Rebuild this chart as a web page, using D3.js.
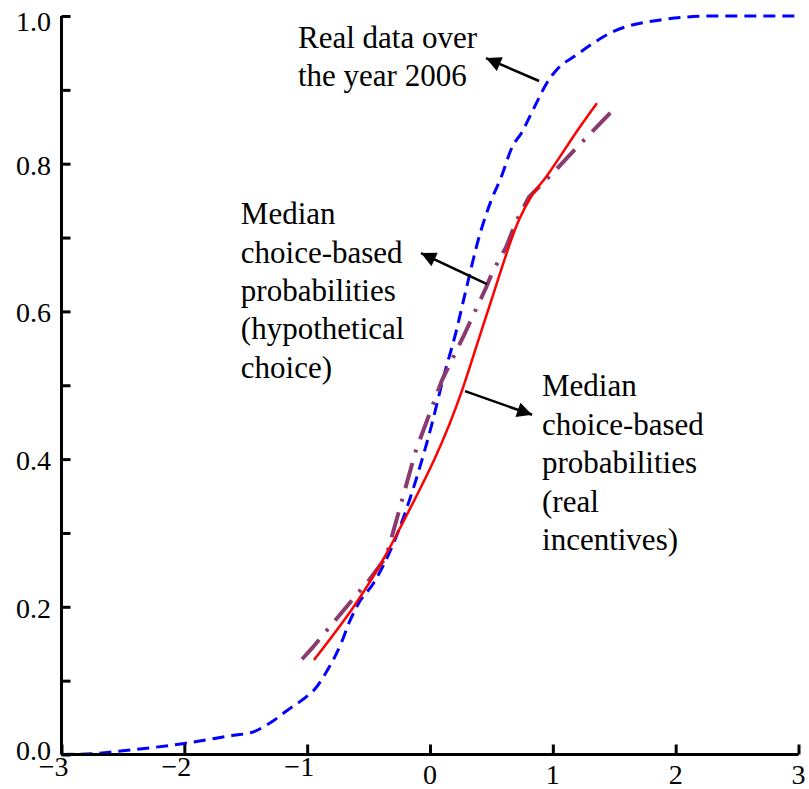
<!DOCTYPE html>
<html>
<head>
<meta charset="utf-8">
<script src="https://cdn.jsdelivr.net/npm/d3@7"></script>
<style>
  body { margin: 0; background: #fff; }
</style>
</head>
<body>
<div id="chart"></div>
<script>
const chart_width = 809;
const chart_height = 789;
const serif = "'Liberation Serif', 'DejaVu Serif', serif";

// real data over 2006 (blue dashed)
const realX = [-3, -2.75, -2.5, -2.0, -1.6, -1.45, -1.29, -1.16, -1.04, -0.93, -0.85, -0.77, -0.72, -0.66, -0.58, -0.46, -0.31, -0.09, 0.01, 0.11, 0.21, 0.28, 0.40, 0.50, 0.58, 0.67, 0.75, 0.81, 0.89, 0.95, 1.03, 1.19, 1.48, 1.89, 2.3, 3.0];
const realY = [0, 0.001, 0.005, 0.015, 0.026, 0.030, 0.044, 0.060, 0.074, 0.090, 0.110, 0.134, 0.152, 0.178, 0.205, 0.232, 0.281, 0.385, 0.444, 0.511, 0.571, 0.620, 0.701, 0.751, 0.782, 0.823, 0.843, 0.863, 0.890, 0.909, 0.927, 0.947, 0.978, 0.995, 1.0, 1.0];

// median choice-based probabilities, real incentives (red solid)
const incX = [-0.945, -0.334, -0.252, 0.261, 0.40, 0.505, 0.725, 0.83, 0.945, 1.213, 1.36];
const incY = [0.128, 0.278, 0.304, 0.493, 0.564, 0.618, 0.724, 0.757, 0.782, 0.848, 0.882];

// median choice-based probabilities, hypothetical choice (purple dash-dot)
const hypX = [-1.042, -0.96, -0.806, -0.497, -0.358, -0.114, 0.098, 0.277, 0.456, 0.505, 0.619, 0.708, 0.806, 1.01, 1.173, 1.515];
const hypY = [0.129, 0.144, 0.175, 0.236, 0.267, 0.412, 0.507, 0.568, 0.632, 0.652, 0.687, 0.724, 0.755, 0.789, 0.818, 0.877];

const xTicks = [-3, -2, -1, 0, 1, 2, 3];
const yTicks = [0.0, 0.2, 0.4, 0.6, 0.8, 1.0];
const yMinorTicks = [0.1, 0.3, 0.5, 0.7, 0.9];

const x = d3.scaleLinear().domain([-3, 3]).range([61.5, 798.5]);
const y = d3.scaleLinear().domain([0, 1]).range([754.5, 16]);

const svg = d3.select("#chart").append("svg")
    .attr("width", chart_width)
    .attr("height", chart_height)
    .attr("font-family", serif);

// arrow head
svg.append("defs").append("marker")
    .attr("id", "head")
    .attr("viewBox", "0 0 10 10")
    .attr("refX", 10).attr("refY", 5)
    .attr("markerUnits", "userSpaceOnUse")
    .attr("markerWidth", 18).attr("markerHeight", 15)
    .attr("orient", "auto")
  .append("path")
    .attr("d", "M0,0 L10,5 L0,10 Z")
    .attr("fill", "#000");

const line = d3.line()
    .x(d => x(d[0]))
    .y(d => y(d[1]));

svg.append("path")
    .datum(d3.zip(realX, realY))
    .attr("d", line.curve(d3.curveMonotoneX))
    .attr("fill", "none")
    .attr("stroke", "#0000ff")
    .attr("stroke-width", 3)
    .attr("stroke-dasharray", "12,7");

svg.append("path")
    .datum(d3.zip(hypX, hypY))
    .attr("d", line.curve(d3.curveLinear))
    .attr("fill", "none")
    .attr("stroke", "#8a3a6e")
    .attr("stroke-width", 4)
    .attr("stroke-dasharray", "26,11,3,11");

svg.append("path")
    .datum(d3.zip(incX, incY))
    .attr("d", line.curve(d3.curveMonotoneX))
    .attr("fill", "none")
    .attr("stroke", "#ff0000")
    .attr("stroke-width", 2.5);

// axes
const xAxis = svg.append("g").attr("transform", `translate(0,${y(0)})`)
    .call(d3.axisTop(x).tickValues(xTicks).tickSize(10).tickFormat(""));
const yAxis = svg.append("g").attr("transform", `translate(${x(-3)},0)`)
    .call(d3.axisRight(y).tickValues(yTicks.concat(yMinorTicks)).tickSize(9).tickFormat(""));
[xAxis, yAxis].forEach(g => {
    g.select(".domain").attr("stroke", "#000").attr("stroke-width", 3);
    g.selectAll(".tick line").attr("stroke", "#000").attr("stroke-width", 3);
});
xAxis.select(".domain").attr("d", `M${x(-3)},0H${x(3)}`);
yAxis.select(".domain").attr("d", `M0,${y(0)}V${y(1)}`);

// tick labels
svg.selectAll("text.xlab")
    .data(xTicks)
    .enter().append("text")
    .attr("class", "xlab")
    .attr("font-family", serif)
    .attr("x", d => d < 0 ? x(d) + 7 : x(d))
    .attr("y", d => d < 0 ? 776 : 784)
    .attr("text-anchor", d => d < 0 ? "end" : "middle")
    .attr("font-size", 28)
    .text(d => d < 0 ? "\u2212" + Math.abs(d) : d);

svg.selectAll("text.ylab")
    .data(yTicks)
    .enter().append("text")
    .attr("class", "ylab")
    .attr("font-family", serif)
    .attr("x", 51)
    .attr("y", d => y(d) + (d === 1 ? 15 : d === 0 ? 5 : 11))
    .attr("text-anchor", "end")
    .attr("font-size", 28)
    .text(d => d.toFixed(1));

// annotations
const notes = [
    { lines: ["Real data over", "the year 2006"], at: [-1.075, 0.957] },
    { lines: ["Median", "choice-based", "probabilities", "(hypothetical", "choice)"], at: [-1.54, 0.718] },
    { lines: ["Median", "choice-based", "probabilities", "(real", "incentives)"], at: [0.912, 0.485] }
];
notes.forEach(n => {
    const t = svg.append("text")
        .attr("font-family", serif)
        .attr("x", x(n.at[0]))
        .attr("y", y(n.at[1]))
        .attr("font-size", 31);
    n.lines.forEach((s, i) => {
        t.append("tspan")
            .attr("x", x(n.at[0]))
            .attr("dy", i === 0 ? 0 : 38.4)
            .text(s);
    });
});

const arrows = [
    { from: [0.888, 0.912], to: [0.456, 0.943] },
    { from: [0.464, 0.637], to: [-0.073, 0.679] },
    { from: [0.285, 0.492], to: [0.831, 0.460] }
];
svg.selectAll("line.arrow")
    .data(arrows)
    .enter().append("line")
    .attr("class", "arrow")
    .attr("x1", d => x(d.from[0]))
    .attr("y1", d => y(d.from[1]))
    .attr("x2", d => x(d.to[0]))
    .attr("y2", d => y(d.to[1]))
    .attr("stroke", "#000")
    .attr("stroke-width", 2.5)
    .attr("marker-end", "url(#head)");
</script>
</body>
</html>
